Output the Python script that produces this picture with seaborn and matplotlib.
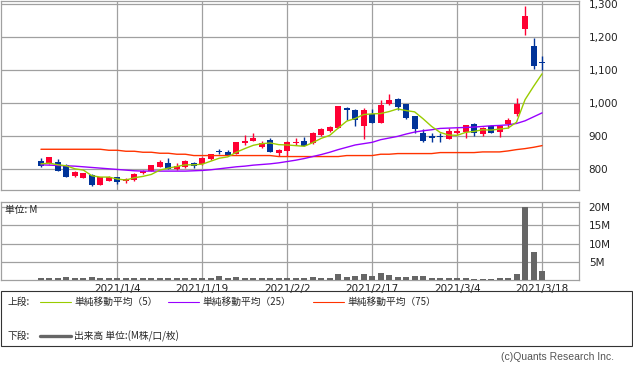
import matplotlib
matplotlib.use("Agg")
import matplotlib.pyplot as plt
import matplotlib.ticker as mticker
from matplotlib.lines import Line2D
from matplotlib.patches import Rectangle
import numpy as np
import seaborn as sns

# 60 trading days, 2020/12/18 .. 2021/3/18
day_no = list(range(60))
tick_pos = [9, 19, 29, 39, 49, 59]
tick_labels = ["2021/1/4", "2021/1/19", "2021/2/2", "2021/2/17", "2021/3/4", "2021/3/18"]

opens = [825, 819, 823, 812, 779, 775, 784, 754, 766, 777,
         764, 767, 788, 795, 807, 819, 801, 808, 821, 815,
         833, 856, 852, 848, 879, 886, 869, 889, 851, 857,
         881, 885, 879, 904, 916, 926, 987, 979, 932, 969,
         941, 998, 1013, 998, 961, 909, 901, 900, 892, 909,
         914, 936, 907, 931, 914, 936, 969, 1225, 1173, 1125]
highs = [834, 839, 831, 815, 796, 788, 786, 777, 781, 778,
         774, 788, 799, 814, 829, 835, 821, 828, 823, 838,
         848, 863, 858, 884, 904, 911, 887, 896, 861, 886,
         894, 899, 914, 926, 932, 993, 988, 982, 986, 982,
         1010, 1027, 1017, 998, 961, 922, 909, 909, 926, 926,
         935, 939, 929, 934, 934, 954, 1017, 1294, 1196, 1143]
lows = [806, 815, 794, 776, 776, 773, 751, 754, 764, 755,
        759, 766, 785, 794, 806, 801, 799, 805, 805, 813,
        829, 846, 843, 847, 874, 885, 864, 853, 840, 840,
        874, 872, 876, 902, 914, 925, 949, 932, 891, 941,
        941, 995, 979, 951, 911, 884, 884, 884, 891, 908,
        894, 901, 901, 909, 899, 926, 961, 1206, 1104, 1102]
closes = [809, 837, 796, 776, 791, 788, 754, 776, 778, 761,
          771, 787, 796, 812, 824, 802, 809, 825, 811, 835,
          846, 854, 843, 883, 887, 896, 881, 853, 858, 883,
          883, 872, 909, 923, 928, 991, 979, 950, 980, 941,
          995, 1010, 989, 956, 922, 886, 896, 899, 916, 916,
          933, 909, 926, 911, 931, 949, 999, 1264, 1112, 1121]

ma5 = [817, 819, 814, 811, 802, 798, 781, 777, 777, 771,
       768, 775, 779, 785, 798, 804, 809, 814, 814, 816,
       825, 834, 838, 852, 863, 873, 878, 880, 875, 874,
       872, 870, 881, 894, 903, 925, 946, 954, 966, 968,
       969, 975, 983, 978, 974, 953, 930, 912, 904, 903,
       912, 915, 920, 919, 922, 925, 943, 1011, 1051, 1089]
ma25 = [814, 813, 812, 811, 810, 808, 806, 804, 802, 800,
        798, 796, 795, 795, 795, 795, 795, 795, 796, 797,
        799, 802, 805, 808, 810, 813, 815, 817, 820, 824,
        828, 833, 839, 845, 852, 860, 867, 874, 878, 882,
        890, 895, 900, 907, 913, 917, 920, 924, 925, 926,
        927, 928, 930, 932, 933, 935, 939, 947, 959, 971]
ma75 = [861, 861, 861, 861, 861, 861, 861, 861, 858, 858,
        855, 855, 852, 852, 849, 849, 846, 846, 842, 842,
        842, 842, 842, 842, 842, 842, 842, 842, 839, 839,
        839, 839, 839, 839, 839, 839, 842, 842, 842, 842,
        846, 846, 848, 848, 848, 848, 848, 851, 851, 851,
        851, 851, 853, 853, 853, 856, 860, 863, 867, 872]

volume = [0.7, 0.7, 0.7, 1.0, 0.7, 0.5, 1.0, 0.5, 0.5, 0.5,
          0.5, 0.5, 0.5, 0.7, 0.7, 0.7, 0.5, 0.7, 0.5, 0.7,
          0.7, 1.3, 0.5, 1.0, 0.7, 0.7, 0.7, 0.7, 0.5, 0.7,
          0.5, 0.5, 1.0, 0.7, 0.7, 1.7, 0.9, 1.1, 1.7, 1.2,
          2.0, 1.45, 0.9, 0.9, 1.2, 1.2, 0.5, 0.65, 0.65, 0.65,
          0.65, 0.45, 0.45, 0.45, 0.65, 0.65, 1.7, 20.0, 7.7, 2.5]

price_ticks = [800, 900, 1000, 1100, 1200, 1300]
vol_ticks = [5, 10, 15, 20]

RED = "#ff0033"
BLUE = "#003399"
C_MA5 = "#99cc00"
C_MA25 = "#9900ff"
C_MA75 = "#ff3300"
GRID = "#a0a0a0"
JP = ["Noto Sans CJK JP", "DejaVu Sans"]

sns.set_style("white")
plt.rcParams["font.family"] = ["DejaVu Sans", "Noto Sans CJK JP"]

W, H = 633, 371
fig = plt.figure(figsize=(W / 100, H / 100), dpi=100)
ax = fig.add_axes([0.5 / W, 1 - 190.3 / H, 578.5 / W, 189.6 / H])
axv = fig.add_axes([0.5 / W, 1 - 280.3 / H, 578.5 / W, 78.6 / H])

# candles
o = np.array(opens)
c = np.array(closes)
cols = [RED if cc >= oo else BLUE for oo, cc in zip(o, c)]
body_lo = np.minimum(o, c)
body_h = np.maximum(np.abs(c - o), 3)
ax.vlines(day_no, lows, highs, colors=cols, lw=1.0, zorder=3)
ax.bar(day_no, body_h, bottom=body_lo, width=0.7, color=cols, linewidth=0, zorder=3)

for vals, col in [(ma75, C_MA75), (ma25, C_MA25), (ma5, C_MA5)]:
    sns.lineplot(x=day_no, y=vals, color=col, lw=1.0, ax=ax, zorder=4, legend=False)

# volume
sns.barplot(x=day_no, y=volume, native_scale=True, color="#666666", saturation=1,
            width=0.72, linewidth=0, edgecolor="#666666", ax=axv, zorder=3)

xlim = (-4.76, 63.35)
for a in (ax, axv):
    a.set_xlim(*xlim)
    a.set_xticks(tick_pos)
    a.grid(True, color=GRID, lw=0.9)
    a.set_axisbelow(True)
    a.yaxis.tick_right()
    a.set_xlabel("")
    a.set_ylabel("")
    for s in a.spines.values():
        s.set_color(GRID)
        s.set_linewidth(0.9)
    a.tick_params(length=0, labelsize=7.5, labelcolor="#222222")

ax.set_ylim(737, 1310)
ax.set_yticks(price_ticks)
ax.yaxis.set_major_formatter(mticker.StrMethodFormatter("{x:,.0f}"))
ax.tick_params(axis="y", pad=7)
ax.set_xticklabels([])

axv.set_ylim(0, 21.5)
axv.set_yticks(vol_ticks)
axv.set_yticklabels([f"{v}M" for v in vol_ticks])
axv.tick_params(axis="y", pad=7)
axv.set_xticklabels(tick_labels)
axv.tick_params(axis="x", pad=3)

fig.text(5 / W, 1 - 209.5 / H, "単位: M", family=JP, fontsize=7, va="center", color="#222222")


def fx(px):
    return px / W


def fy(py):
    return 1 - py / H


# legend box
fig.add_artist(Rectangle((fx(0.5), fy(346)), fx(631.5), 55 / H, transform=fig.transFigure,
                         fill=False, edgecolor="#333333", lw=0.8))

row1, row2 = 302, 336
fig.text(fx(8), fy(row1), "上段:", family=JP, fontsize=7, va="center")
fig.text(fx(8), fy(row2), "下段:", family=JP, fontsize=7, va="center")
legend_items = [(40, C_MA5, "単純移動平均（5）"),
                (168, C_MA25, "単純移動平均（25）"),
                (313, C_MA75, "単純移動平均（75）")]
for x0, col, label in legend_items:
    fig.add_artist(Line2D([fx(x0), fx(x0 + 31)], [fy(row1), fy(row1)], color=col, lw=0.8,
                          transform=fig.transFigure))
    fig.text(fx(x0 + 34), fy(row1), label, family=JP, fontsize=7, va="center")
fig.add_artist(Line2D([fx(40), fx(71)], [fy(row2), fy(row2)], color="#666666", lw=2.4,
                      transform=fig.transFigure))
fig.text(fx(74), fy(row2), "出来高 単位:(M株/口/枚)", family=JP, fontsize=7, va="center")

fig.text(fx(614), fy(357), "(c)Quants Research Inc.", family=["Liberation Sans"],
         fontsize=7.5, ha="right", va="center", color="#555555")

fig.savefig("out.png", dpi=100)
